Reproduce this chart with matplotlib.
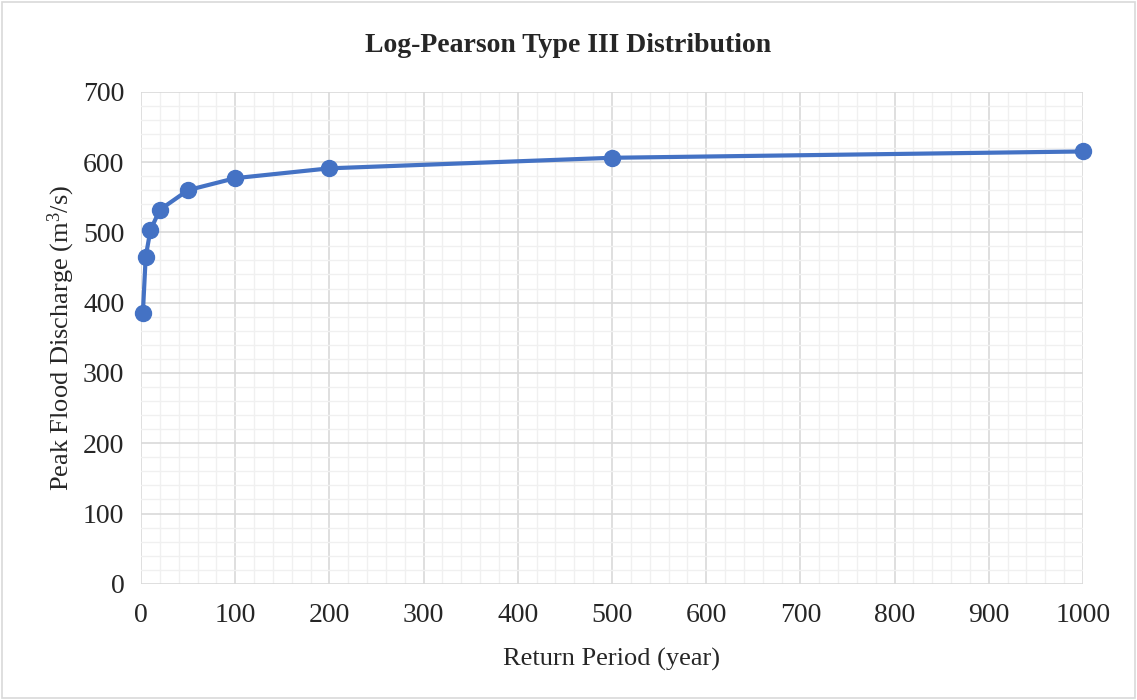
import matplotlib.pyplot as plt
from matplotlib.patches import Rectangle
from matplotlib.ticker import MultipleLocator

# return period (year) and peak flood discharge (m3/s)
return_period = [2, 5, 10, 20, 50, 100, 200, 500, 1000]
discharge = [385, 465, 503, 532, 560, 577, 591, 606, 615]

plt.rcParams["font.family"] = ["Liberation Serif", "DejaVu Serif"]
plt.rcParams["mathtext.fontset"] = "custom"
plt.rcParams["mathtext.rm"] = "Liberation Serif"

fig = plt.figure(figsize=(11.37, 7.0), dpi=100)
ax = fig.add_axes([0.124, 0.166, 0.8285, 0.703])

ax.plot(return_period, discharge, color="#4472C4", linewidth=3,
        marker="o", markersize=11.5, zorder=3, clip_on=False)

ax.set_xlim(0, 1000)
ax.set_ylim(0, 700)
ax.xaxis.set_major_locator(MultipleLocator(100))
ax.yaxis.set_major_locator(MultipleLocator(100))
ax.xaxis.set_minor_locator(MultipleLocator(20))
ax.yaxis.set_minor_locator(MultipleLocator(20))
ax.grid(which="major", color="#d9d9d9", linewidth=1.2)
ax.grid(which="minor", color="#f0f0f0", linewidth=1.0)
ax.set_axisbelow(True)
for s in ax.spines.values():
    s.set_visible(False)
ax.tick_params(which="both", length=0, labelsize=20, colors="#262626")
ax.tick_params(axis="x", pad=14)
ax.tick_params(axis="y", pad=12)

# title is centred on the whole chart, not the plot area
fig.text(0.5, 1 - 45 / 700, "Log-Pearson Type III Distribution", fontsize=20,
         fontweight="bold", color="#262626", ha="center", va="center")
ax.set_xlabel("Return Period (year)", fontsize=19, color="#262626", labelpad=14)
ax.set_ylabel("Peak Flood Discharge (m$\\mathregular{^3}$/s)", fontsize=19,
              color="#262626", labelpad=4)

fig.patches.append(Rectangle((0.002, 0.003), 0.996, 0.994, transform=fig.transFigure,
                             fill=False, edgecolor="#d9d9d9", linewidth=1.2))

fig.savefig("out.png", dpi=100)
